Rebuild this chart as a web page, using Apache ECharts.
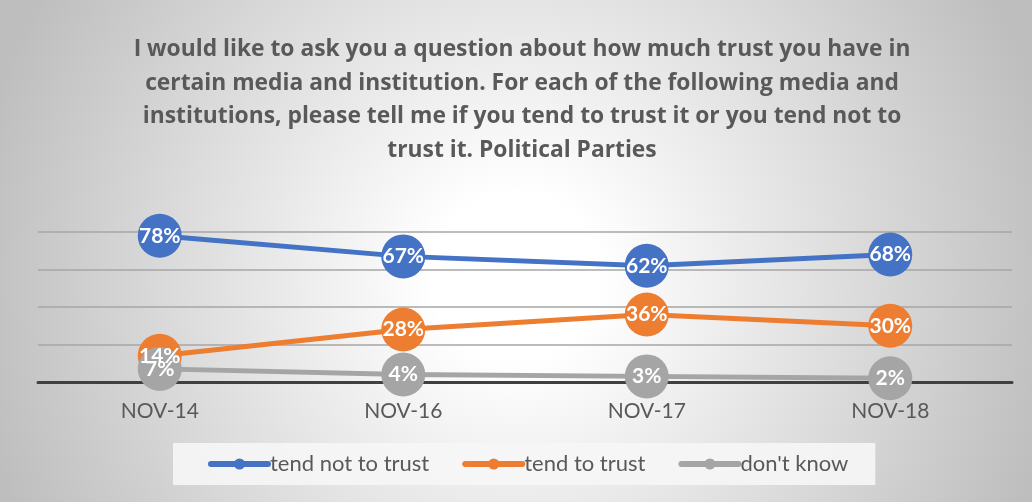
<!DOCTYPE html>
<html lang="en">
<head>
    <meta charset="utf-8" />
    <title>Political Parties</title>
    <script type="text/javascript" src="https://cdn.jsdelivr.net/npm/echarts@6/dist/echarts.min.js"></script>
    <style type="text/css">
        html, body { margin: 0; padding: 0; }
    </style>
</head>
<body>
    <div id="main" style="width:1032px;height:502px;"></div>

    <script type="text/javascript">
        var periods = ['NOV-14', 'NOV-16', 'NOV-17', 'NOV-18'];
        var not_trust = [78, 67, 62, 68];
        var trust = [14, 28, 36, 30];
        var dont_know = [7, 4, 3, 2];

        var font = 'Lato, "Open Sans", sans-serif';
        var myChart = echarts.init(document.getElementById('main'));

        function makeSeries(name, color, data) {
            return {
                name: name,
                type: 'line',
                data: data,
                symbol: 'circle',
                symbolSize: 44,
                itemStyle: { color: color },
                lineStyle: { color: color, width: 5 },
                label: {
                    show: true,
                    position: 'inside',
                    formatter: '{c}%',
                    color: '#fff',
                    fontFamily: font,
                    fontWeight: 'bold',
                    fontSize: 21
                },
                emphasis: { disabled: true }
            };
        }

        var option = {
            backgroundColor: {
                type: 'radial', x: 0.5, y: 0.55, r: 1.1,
                colorStops: [
                    { offset: 0, color: '#ffffff' },
                    { offset: 0.15, color: '#ffffff' },
                    { offset: 1, color: '#bebebe' }
                ]
            },
            animation: false,
            title: {
                text: 'I would like to ask you a question about how much trust you have in\ncertain media and institution. For each of the following media and\ninstitutions, please tell me if you tend to trust it or you tend not to\ntrust it. Political Parties',
                left: 517,
                textAlign: 'center',
                top: 28,
                textStyle: {
                    fontFamily: '"Open Sans", sans-serif',
                    fontWeight: 'bold',
                    fontSize: 22.8,
                    lineHeight: 33.5,
                    color: '#595959'
                }
            },
            legend: {
                data: ['tend not to trust', 'tend to trust', "don't know"],
                left: 173,
                top: 443,
                backgroundColor: 'rgba(246,246,246,0.9)',
                padding: [10, 27, 10, 35],
                itemGap: 33,
                itemWidth: 57,
                itemHeight: 14,
                lineStyle: { width: 6, cap: 'round' },
                textStyle: { fontFamily: font, fontSize: 22, color: '#595959', padding: [0, 0, 0, -3] }
            },
            grid: { left: 38, right: 20, top: 232, bottom: 120 },
            xAxis: {
                type: 'category',
                data: periods,
                axisLine: { show: true, lineStyle: { color: '#404040', width: 3 } },
                axisTick: { show: false },
                axisLabel: { fontFamily: font, fontSize: 21, color: '#595959', margin: 19 }
            },
            yAxis: {
                type: 'value',
                min: 0,
                max: 80,
                interval: 20,
                axisLabel: { show: false },
                axisLine: { show: false },
                axisTick: { show: false },
                splitLine: { lineStyle: { color: '#a6a6a6', width: 1.5 } }
            },
            series: [
                makeSeries('tend not to trust', '#4472C4', not_trust),
                makeSeries('tend to trust', '#ED7D31', trust),
                makeSeries("don't know", '#A5A5A5', dont_know)
            ]
        };
        myChart.setOption(option);
    </script>
</body>
</html>
